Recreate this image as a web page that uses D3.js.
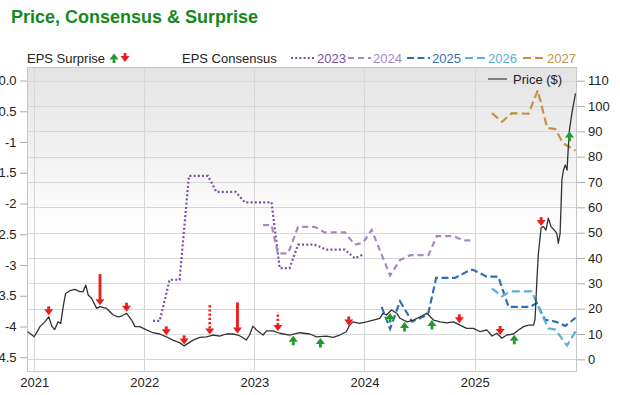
<!DOCTYPE html>
<html>
<head>
<meta charset="utf-8">
<script src="https://cdn.jsdelivr.net/npm/d3@7"></script>
<style>
  body { margin: 0; background: #fff; }
  svg { display: block; font-family: "Liberation Sans", Arial, sans-serif; }
</style>
</head>
<body>
<svg id="chart" width="620" height="395"></svg>
<script>
// share price, $ (right axis)
const price = [
  ['2020-12-10', 10.9], ['2021-01-01', 8.9], ['2021-01-20', 12.9], ['2021-02-05', 14.8],
  ['2021-02-18', 16.8], ['2021-03-01', 12.9], ['2021-03-10', 11.8], ['2021-03-21', 14.8],
  ['2021-03-30', 14.2], ['2021-04-07', 20.8], ['2021-04-15', 26.0], ['2021-04-29', 27.1],
  ['2021-05-16', 27.6], ['2021-06-01', 26.7], ['2021-06-12', 26.7], ['2021-06-21', 29.3],
  ['2021-06-29', 25.4], ['2021-07-10', 24.1], ['2021-07-27', 20.1], ['2021-08-07', 20.8],
  ['2021-08-29', 20.1], ['2021-09-20', 17.5], ['2021-10-06', 16.8], ['2021-10-18', 17.1],
  ['2021-11-03', 18.2], ['2021-11-20', 15.5], ['2021-12-01', 12.9], ['2021-12-17', 12.9],
  ['2022-01-08', 11.6], ['2022-01-30', 10.5], ['2022-02-21', 10.0], ['2022-03-15', 8.9],
  ['2022-04-06', 7.6], ['2022-04-28', 6.6], ['2022-05-13', 5.3], ['2022-05-26', 6.3],
  ['2022-06-12', 7.6], ['2022-07-04', 8.7], ['2022-07-26', 8.9], ['2022-08-17', 9.6],
  ['2022-09-08', 9.2], ['2022-09-30', 10.0], ['2022-10-22', 10.0], ['2022-11-08', 9.6],
  ['2022-11-19', 8.9], ['2022-12-05', 7.6], ['2022-12-16', 9.6], ['2022-12-27', 13.1],
  ['2023-01-08', 11.6], ['2023-01-30', 9.6], ['2023-02-10', 11.2], ['2023-03-04', 11.2],
  ['2023-03-26', 10.3], ['2023-04-28', 9.6], ['2023-06-01', 10.5], ['2023-07-04', 10.0],
  ['2023-07-26', 8.9], ['2023-08-28', 9.2], ['2023-09-19', 8.7], ['2023-10-11', 9.6],
  ['2023-11-02', 10.9], ['2023-11-13', 13.5], ['2023-11-24', 14.8], ['2023-12-16', 14.2],
  ['2024-01-08', 14.8], ['2024-01-30', 15.5], ['2024-02-21', 16.2], ['2024-03-03', 18.2],
  ['2024-03-14', 17.5], ['2024-03-31', 19.5], ['2024-04-17', 18.2], ['2024-04-28', 16.2],
  ['2024-05-21', 14.8], ['2024-06-12', 15.5], ['2024-07-04', 16.8], ['2024-07-26', 18.2],
  ['2024-08-17', 15.5], ['2024-09-08', 14.8], ['2024-09-30', 14.4], ['2024-10-22', 14.8],
  ['2024-11-13', 13.5], ['2024-12-05', 12.2], ['2024-12-27', 12.2], ['2025-01-19', 10.9],
  ['2025-02-10', 11.6], ['2025-02-27', 9.2], ['2025-03-15', 10.3], ['2025-04-01', 8.3],
  ['2025-04-17', 9.6], ['2025-05-09', 10.0], ['2025-05-26', 11.6], ['2025-06-12', 12.9],
  ['2025-06-28', 13.5], ['2025-07-15', 13.5], ['2025-07-20', 16.0], ['2025-07-26', 31.3],
  ['2025-07-31', 41.8], ['2025-08-09', 52.0], ['2025-08-17', 52.4], ['2025-08-25', 51.0],
  ['2025-09-02', 55.7], ['2025-09-11', 52.4], ['2025-09-22', 51.0], ['2025-09-30', 49.7],
  ['2025-10-05', 45.8], ['2025-10-11', 49.7], ['2025-10-17', 70.8], ['2025-10-22', 74.7],
  ['2025-10-28', 76.7], ['2025-11-03', 74.7], ['2025-11-06', 81.3], ['2025-11-11', 90.5],
  ['2025-11-19', 97.1], ['2025-12-01', 105.0],
];

// EPS consensus by fiscal year (left axis)
const eps2023 = [
  ['2022-01-30', -3.91], ['2022-02-21', -3.91], ['2022-03-26', -3.24], ['2022-04-28', -3.24],
  ['2022-05-29', -1.55], ['2022-07-31', -1.55], ['2022-08-28', -1.81], ['2022-10-31', -1.81],
  ['2022-11-30', -1.98], ['2023-02-27', -1.98], ['2023-03-26', -3.05], ['2023-04-28', -3.05],
  ['2023-05-26', -2.67], ['2023-07-20', -2.67], ['2023-08-28', -2.75], ['2023-10-28', -2.75],
  ['2023-11-30', -2.89], ['2023-12-27', -2.83],
];
const eps2024 = [
  ['2023-01-30', -2.35], ['2023-02-27', -2.35], ['2023-03-20', -2.81], ['2023-04-23', -2.81],
  ['2023-05-26', -2.38], ['2023-07-20', -2.38], ['2023-08-22', -2.47], ['2023-10-28', -2.47],
  ['2023-11-30', -2.67], ['2023-12-27', -2.64], ['2024-01-25', -2.43], ['2024-03-26', -3.17],
  ['2024-04-28', -2.92], ['2024-06-01', -2.84], ['2024-07-31', -2.84], ['2024-08-28', -2.53],
  ['2024-10-22', -2.53], ['2024-11-24', -2.6], ['2024-12-22', -2.6],
];
const eps2025 = [
  ['2024-02-27', -3.68], ['2024-03-26', -4.04], ['2024-04-28', -3.59], ['2024-06-07', -3.92],
  ['2024-07-15', -3.84], ['2024-07-31', -3.78], ['2024-08-26', -3.21], ['2024-10-28', -3.21],
  ['2024-12-16', -3.08], ['2024-12-27', -3.08], ['2025-02-10', -3.19], ['2025-03-20', -3.19],
  ['2025-04-23', -3.68], ['2025-07-04', -3.68], ['2025-07-26', -3.62], ['2025-08-22', -3.89],
  ['2025-09-25', -3.92], ['2025-10-28', -3.99], ['2025-12-01', -3.86],
];
const eps2026 = [
  ['2025-02-27', -3.38], ['2025-04-01', -3.51], ['2025-04-28', -3.43], ['2025-07-09', -3.43],
  ['2025-08-09', -3.78], ['2025-09-02', -4.03], ['2025-09-25', -4.05], ['2025-11-03', -4.31],
  ['2025-12-01', -4.08],
];
const eps2027 = [
  ['2025-02-27', -0.53], ['2025-04-01', -0.67], ['2025-05-04', -0.53], ['2025-06-28', -0.54],
  ['2025-07-29', -0.16], ['2025-08-29', -0.77], ['2025-09-25', -0.79], ['2025-10-21', -1.02],
  ['2025-12-01', -1.14],
];

// earnings surprises: date, beat/miss, size of surprise (%), revised (dotted)
const surprises = [
  ['2021-02-18', 'miss', 0, false], ['2021-08-07', 'miss', 100, false],
  ['2021-11-03', 'miss', 0, false], ['2022-03-15', 'miss', 0, false],
  ['2022-05-13', 'miss', 0, false], ['2022-08-06', 'miss', 100, true],
  ['2022-11-06', 'miss', 100, false], ['2023-03-20', 'miss', 45, true],
  ['2023-05-10', 'beat', 0, false], ['2023-08-08', 'beat', 0, false],
  ['2023-11-10', 'miss', 0, false], ['2024-03-26', 'beat', 0, false],
  ['2024-05-13', 'beat', 0, false], ['2024-08-12', 'beat', 0, false],
  ['2024-11-11', 'miss', 0, false], ['2025-03-26', 'miss', 0, false],
  ['2025-05-12', 'beat', 0, false], ['2025-08-09', 'miss', 0, false],
  ['2025-11-11', 'beat', 0, false],
];

const epsTicks = [0, -0.5, -1, -1.5, -2, -2.5, -3, -3.5, -4, -4.5];
const priceTicks = [0, 10, 20, 30, 40, 50, 60, 70, 80, 90, 100, 110];
const yearTicks = ['2021', '2022', '2023', '2024', '2025'];
const seriesNames = ['2023', '2024', '2025', '2026', '2027'];

const colours = {
  '2023': '#7b4f9e', '2024': '#a985c7', '2025': '#2f6fb6', '2026': '#58b0dc', '2027': '#c29248',
};
const dashes = {
  '2023': '2,2.2', '2024': '6,4', '2025': '7,3.5', '2026': '8,4', '2027': '8,4',
};
const red = '#ee1b1b';
const green = '#1d9a2a';

const parse = d3.timeParse('%Y-%m-%d');
const plot = { left: 27, right: 577, top: 67, bottom: 372 };

const x = d3.scaleTime()
  .domain([parse('2020-12-08'), parse('2025-12-06')])
  .range([plot.left, plot.right]);
const yEps = d3.scaleLinear().domain([-4.74, 0.22]).range([plot.bottom, plot.top]);
const yPrice = d3.scaleLinear().domain([-5, 115.4]).range([plot.bottom, plot.top]);
const stemLen = d3.scaleLinear().domain([0, 100]).range([3, 25]);

const toPoints = arr => arr.map(([d, v]) => ({ date: parse(d), v }));
const priceData = toPoints(price);
const epsData = {
  '2023': toPoints(eps2023), '2024': toPoints(eps2024), '2025': toPoints(eps2025),
  '2026': toPoints(eps2026), '2027': toPoints(eps2027),
};

const bisect = d3.bisector(d => d.date).left;
const priceAt = date => {
  const i = Math.max(1, Math.min(priceData.length - 1, bisect(priceData, date)));
  const a = priceData[i - 1], b = priceData[i];
  const t = (date - a.date) / (b.date - a.date);
  return a.v + t * (b.v - a.v);
};

const svg = d3.select('#chart');
const defs = svg.append('defs');
const grad = defs.append('linearGradient').attr('id', 'bg').attr('x1', 0).attr('x2', 0).attr('y1', 0).attr('y2', 1);
grad.append('stop').attr('offset', '0%').attr('stop-color', '#e3e3e3');
grad.append('stop').attr('offset', '55%').attr('stop-color', '#ffffff');
defs.append('clipPath').attr('id', 'clip').append('rect')
  .attr('x', plot.left).attr('y', plot.top)
  .attr('width', plot.right - plot.left).attr('height', plot.bottom - plot.top);

// title
svg.append('text')
  .attr('x', 11).attr('y', 23)
  .attr('font-size', 18).attr('font-weight', 'bold').attr('fill', '#15891a')
  .text('Price, Consensus & Surprise');

// plot background
svg.append('rect')
  .attr('x', plot.left).attr('y', plot.top)
  .attr('width', plot.right - plot.left).attr('height', plot.bottom - plot.top)
  .attr('fill', 'url(#bg)');

// grid
svg.append('g')
  .selectAll('line')
  .data(priceTicks)
  .join('line')
  .attr('x1', plot.left).attr('x2', plot.right)
  .attr('y1', d => Math.round(yPrice(d)) + 0.5).attr('y2', d => Math.round(yPrice(d)) + 0.5)
  .attr('stroke', '#d7d7d7');

svg.append('g')
  .selectAll('line')
  .data(yearTicks)
  .join('line')
  .attr('x1', d => Math.round(x(parse(d + '-01-01'))) + 0.5)
  .attr('x2', d => Math.round(x(parse(d + '-01-01'))) + 0.5)
  .attr('y1', plot.top).attr('y2', plot.bottom)
  .attr('stroke', '#d7d7d7');

svg.append('rect')
  .attr('x', plot.left + 0.5).attr('y', plot.top + 0.5)
  .attr('width', plot.right - plot.left - 1).attr('height', plot.bottom - plot.top - 1)
  .attr('fill', 'none').attr('stroke', '#c6c6c6');

// axes
const styleAxis = g => {
  g.select('.domain').remove();
  g.selectAll('line').attr('stroke', '#aaa');
  g.selectAll('text').attr('fill', '#222').attr('font-size', 13)
    .attr('font-family', '"Liberation Sans", Arial, sans-serif');
};

svg.append('g')
  .attr('transform', `translate(${plot.left},0)`)
  .call(d3.axisLeft(yEps).tickValues(epsTicks).tickSize(7).tickPadding(3.5)
    .tickFormat(d => (d === 0 ? '0.0' : d % 1 === 0 ? d : d.toFixed(1))))
  .call(styleAxis);

svg.append('g')
  .attr('transform', `translate(${plot.right},0)`)
  .call(d3.axisRight(yPrice).tickValues(priceTicks).tickSize(8).tickPadding(3))
  .call(styleAxis);

svg.append('g')
  .attr('transform', `translate(0,${plot.bottom})`)
  .call(d3.axisBottom(x).tickValues(yearTicks.map(d => parse(d + '-01-01')))
    .tickSize(0).tickPadding(6).tickFormat(d3.timeFormat('%Y')))
  .call(styleAxis);

// series
const chart = svg.append('g').attr('clip-path', 'url(#clip)');

const epsLine = d3.line().x(d => x(d.date)).y(d => yEps(d.v));
seriesNames.forEach(name => {
  chart.append('path')
    .datum(epsData[name])
    .attr('d', epsLine)
    .attr('fill', 'none')
    .attr('stroke', colours[name])
    .attr('stroke-width', 2.2)
    .attr('stroke-dasharray', dashes[name]);
});

chart.append('path')
  .datum(priceData)
  .attr('d', d3.line().x(d => x(d.date)).y(d => yPrice(d.v)))
  .attr('fill', 'none')
  .attr('stroke', '#333')
  .attr('stroke-width', 1.3)
  .attr('stroke-linejoin', 'round');

// surprise arrows
const drawArrow = (g, cx, tip, dir, len, dotted, colour) => {
  // dir = 1 points down, -1 points up
  const hw = 4.5, hh = 6, sw = 1.4;
  const base = tip - dir * hh;
  g.append('path')
    .attr('d', `M${cx - hw},${base}L${cx + hw},${base}L${cx},${tip}Z`)
    .attr('fill', colour);
  if (dotted) {
    g.append('line')
      .attr('x1', cx).attr('x2', cx)
      .attr('y1', base).attr('y2', base - dir * len)
      .attr('stroke', colour).attr('stroke-width', 2.6).attr('stroke-dasharray', '2.2,2');
  } else {
    g.append('rect')
      .attr('x', cx - sw).attr('width', sw * 2)
      .attr('y', dir > 0 ? base - len : base).attr('height', len + 0.5)
      .attr('fill', colour);
  }
};

const arrows = svg.append('g');
surprises.forEach(([d, result, size, dotted]) => {
  const date = parse(d);
  const cx = x(date);
  const py = yPrice(priceAt(date));
  if (result === 'miss') drawArrow(arrows, cx, py - 1.5, 1, stemLen(size), dotted, red);
  else drawArrow(arrows, cx, py + 1.5, -1, stemLen(size), dotted, green);
});

// legend
const legendY = 58;
svg.append('text').attr('x', 27).attr('y', legendY + 4.5).attr('font-size', 13).attr('fill', '#222')
  .text('EPS Surprise');
drawArrow(svg.append('g'), 114, legendY - 4.5, -1, 3, false, green);
drawArrow(svg.append('g'), 125, legendY + 4, 1, 3, false, red);

svg.append('text').attr('x', 182).attr('y', legendY + 4.5).attr('font-size', 13).attr('fill', '#222')
  .text('EPS Consensus');

const legendPos = { '2023': [291, 317], '2024': [348, 373], '2025': [407, 432], '2026': [465, 488], '2027': [523, 547] };
seriesNames.forEach(name => {
  const [lx, tx] = legendPos[name];
  svg.append('line')
    .attr('x1', lx).attr('x2', tx - 2).attr('y1', legendY).attr('y2', legendY)
    .attr('stroke', colours[name]).attr('stroke-width', 2.2).attr('stroke-dasharray', dashes[name]);
  svg.append('text').attr('x', tx).attr('y', legendY + 4.5).attr('font-size', 13)
    .attr('fill', colours[name]).text(name);
});

svg.append('line').attr('x1', 488).attr('x2', 507).attr('y1', 79).attr('y2', 79)
  .attr('stroke', '#666').attr('stroke-width', 1.6);
svg.append('text').attr('x', 513).attr('y', 83.5).attr('font-size', 13).attr('fill', '#222')
  .text('Price ($)');
</script>
</body>
</html>
